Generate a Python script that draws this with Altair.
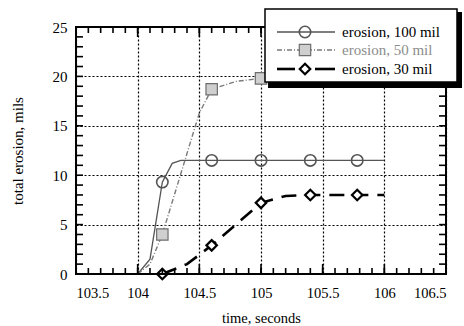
import altair as alt
import pandas as pd

# erosion, 100 mil
t_100 = [104.0, 104.1, 104.2, 104.28, 104.35, 106.0]
e_100 = [0.0, 1.5, 9.3, 11.2, 11.5, 11.5]
t_100_pts = [104.2, 104.6, 105.0, 105.4, 105.78]
e_100_pts = [9.3, 11.5, 11.5, 11.5, 11.5]

# erosion, 50 mil
t_50 = [104.0, 104.1, 104.2, 104.5, 104.6, 104.8, 105.0, 106.0]
e_50 = [0.0, 1.0, 4.0, 16.3, 18.7, 19.5, 19.8, 20.0]
t_50_pts = [104.2, 104.6, 105.0, 105.4, 105.78]
e_50_pts = [4.0, 18.7, 19.8, 20.0, 20.0]

# erosion, 30 mil
t_30 = [104.2, 104.4, 104.6, 105.0, 105.2, 105.4, 106.0]
e_30 = [0.0, 1.0, 2.9, 7.2, 7.9, 8.0, 8.0]
t_30_pts = [104.2, 104.6, 105.0, 105.4, 105.78]
e_30_pts = [0.0, 2.9, 7.2, 8.0, 8.0]

# axis ticks
x_major = [103.5, 104.0, 104.5, 105.0, 105.5, 106.0, 106.5]
y_major = [0, 5, 10, 15, 20, 25]
x_minor = [round(103.5 + 0.1 * i, 1) for i in range(31)]
y_minor = list(range(26))

legend_labels = ["erosion, 100 mil", "erosion, 50 mil", "erosion, 30 mil"]

W, H = 370, 247
SERIF = "'Liberation Serif', 'Times New Roman', Times, 'DejaVu Serif', serif"

xs = alt.Scale(domain=[103.5, 106.5], nice=False, zero=False)
ys = alt.Scale(domain=[0, 25], nice=False)


def frame(t, v):
    return pd.DataFrame({"t": t, "v": v})


# main axes with dotted grid and labels
x_main = alt.Axis(orient="bottom", values=x_major, format="~g", grid=True,
                  gridColor="black", gridDash=[2, 2], gridWidth=1.2, gridOpacity=1,
                  ticks=False, domain=False, labelPadding=12, labelFont=SERIF,
                  labelFontSize=14.5, labelColor="black", title="time, seconds",
                  titleFont=SERIF, titleFontSize=14.5, titleFontWeight="normal",
                  titleColor="black", titlePadding=12)
y_main = alt.Axis(orient="left", values=y_major, grid=True, gridColor="black",
                  gridDash=[2, 2], gridWidth=1.2, gridOpacity=1, ticks=False,
                  domain=False, labelPadding=9, labelFont=SERIF, labelFontSize=15,
                  labelColor="black", title="total erosion, mils", titleFont=SERIF,
                  titleFontSize=15, titleFontWeight="normal", titleColor="black",
                  titlePadding=27)

line_100 = alt.Chart(frame(t_100, e_100)).mark_line(
    color="#555555", strokeWidth=1.3).encode(
    x=alt.X("t:Q", scale=xs, axis=x_main),
    y=alt.Y("v:Q", scale=ys, axis=y_main))

line_50 = alt.Chart(frame(t_50, e_50)).mark_line(
    color="#7a7a7a", strokeWidth=1.4, strokeDash=[5, 2, 1, 2]).encode(
    x=alt.X("t:Q", scale=xs, axis=None),
    y=alt.Y("v:Q", scale=ys, axis=None))

line_30 = alt.Chart(frame(t_30, e_30)).mark_line(
    color="black", strokeWidth=2.6, strokeDash=[15, 9]).encode(
    x=alt.X("t:Q", scale=xs, axis=None),
    y=alt.Y("v:Q", scale=ys, axis=None))

pts_100 = alt.Chart(frame(t_100_pts, e_100_pts)).mark_point(
    shape="circle", filled=False, color="#555555", strokeWidth=1.6, size=130,
    opacity=1).encode(
    x=alt.X("t:Q", scale=xs, axis=None),
    y=alt.Y("v:Q", scale=ys, axis=None))

pts_50 = alt.Chart(frame(t_50_pts, e_50_pts)).mark_point(
    shape="square", filled=True, fill="#cfcfcf", stroke="#6e6e6e", strokeWidth=1.2,
    size=130, opacity=1).encode(
    x=alt.X("t:Q", scale=xs, axis=None),
    y=alt.Y("v:Q", scale=ys, axis=None))

pts_30 = alt.Chart(frame(t_30_pts, e_30_pts)).mark_point(
    shape="diamond", filled=True, fill="white", stroke="black", strokeWidth=2.2,
    size=110, opacity=1).encode(
    x=alt.X("t:Q", scale=xs, axis=None),
    y=alt.Y("v:Q", scale=ys, axis=None))


# inward tick marks on all four edges
def x_ticks(values, y0, y1):
    return alt.Chart(pd.DataFrame({"t": values})).mark_rule(
        color="black", strokeWidth=1.6).encode(
        x=alt.X("t:Q", scale=xs, axis=None), y=alt.value(y0), y2=alt.value(y1))


def y_ticks(values, x0, x1):
    return alt.Chart(pd.DataFrame({"v": values})).mark_rule(
        color="black", strokeWidth=1.6).encode(
        y=alt.Y("v:Q", scale=ys, axis=None), x=alt.value(x0), x2=alt.value(x1))


ticks = [
    x_ticks(x_minor, H, H - 6), x_ticks(x_major, H, H - 10),
    x_ticks(x_minor, 0, 6), x_ticks(x_major, 0, 10),
    y_ticks(y_minor, 0, 7), y_ticks(y_minor, W - 7, W),
]

one = pd.DataFrame({"k": [0]})

border = alt.Chart(one).mark_rect(fill=None, stroke="black", strokeWidth=2).encode(
    x=alt.value(0), x2=alt.value(W), y=alt.value(0), y2=alt.value(H))

# legend box with drop shadow, drawn over the plot
LX0, LX1, LY0, LY1 = 189, 381, -18, 55
shadow = alt.Chart(one).mark_rect(fill="black").encode(
    x=alt.value(LX0 + 3), x2=alt.value(LX1 + 5),
    y=alt.value(LY0 + 3), y2=alt.value(LY1 + 6))
box = alt.Chart(one).mark_rect(fill="white", stroke="black", strokeWidth=1.5).encode(
    x=alt.value(LX0), x2=alt.value(LX1), y=alt.value(LY0), y2=alt.value(LY1))

ROWS = [5, 23, 42]
SX0, SX1, SXM, TX = 201, 259, 229, 266

leg = []
leg.append(alt.Chart(one).mark_rule(color="#555555", strokeWidth=1.3).encode(
    x=alt.value(SX0), x2=alt.value(SX1), y=alt.value(ROWS[0])))
leg.append(alt.Chart(one).mark_point(shape="circle", filled=False, color="#555555",
                                     strokeWidth=1.6, size=130, opacity=1).encode(
    x=alt.value(SXM), y=alt.value(ROWS[0])))
leg.append(alt.Chart(one).mark_rule(color="#7a7a7a", strokeWidth=1.4,
                                    strokeDash=[5, 2, 1, 2]).encode(
    x=alt.value(SX0), x2=alt.value(SX1), y=alt.value(ROWS[1])))
leg.append(alt.Chart(one).mark_point(shape="square", filled=True, fill="#cfcfcf",
                                     stroke="#6e6e6e", strokeWidth=1.2, size=130,
                                     opacity=1).encode(
    x=alt.value(SXM), y=alt.value(ROWS[1])))
leg.append(alt.Chart(one).mark_rule(color="black", strokeWidth=2.6).encode(
    x=alt.value(SX0), x2=alt.value(SXM - 10), y=alt.value(ROWS[2])))
leg.append(alt.Chart(one).mark_rule(color="black", strokeWidth=2.6).encode(
    x=alt.value(SXM + 10), x2=alt.value(SX1), y=alt.value(ROWS[2])))
leg.append(alt.Chart(one).mark_point(shape="diamond", filled=True, fill="white",
                                     stroke="black", strokeWidth=2.2, size=110,
                                     opacity=1).encode(
    x=alt.value(SXM), y=alt.value(ROWS[2])))

label_colors = ["black", "#8c8c8c", "black"]
for lab, row, col in zip(legend_labels, ROWS, label_colors):
    leg.append(alt.Chart(one).mark_text(
        text=lab, font=SERIF, fontSize=15, color=col, align="left",
        baseline="middle").encode(x=alt.value(TX), y=alt.value(row)))

chart = alt.layer(
    line_100, line_50, line_30, pts_100, pts_50, pts_30, *ticks, border,
    shadow, box, *leg
).resolve_axis(x="independent", y="independent").properties(
    width=W, height=H,
    padding={"left": 76, "top": 27, "right": 18, "bottom": 52},
    autosize=alt.AutoSizeParams(type="none"),
).configure_view(stroke=None)

chart.save("out.html", embed_options={"renderer": "svg", "actions": False})
